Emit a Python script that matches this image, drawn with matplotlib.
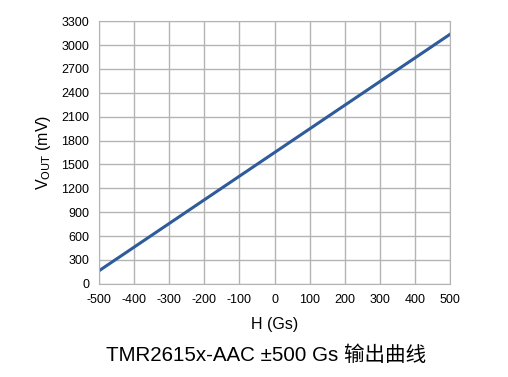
import matplotlib.pyplot as plt
import numpy as np

plt.rcParams['font.family'] = ['Liberation Sans', 'Noto Sans CJK SC', 'DejaVu Sans']
plt.rcParams['axes.unicode_minus'] = False

# data
field_gs = [-500, 500]
vout_mv = [165, 3135]
x_ticks = list(range(-500, 501, 100))
y_ticks = list(range(0, 3301, 300))

fig = plt.figure(figsize=(5.08, 3.77), dpi=100)
ax = fig.add_axes([0.195, 0.247, 0.691, 0.697])

ax.plot(field_gs, vout_mv, color='#2e5b9a', linewidth=2.2)

ax.set_xlim(-500, 500)
ax.set_ylim(0, 3300)
ax.set_xticks(x_ticks)
ax.set_yticks(y_ticks)
ax.grid(True, color='#b4b4b4', linewidth=1)
ax.set_axisbelow(True)
for s in ax.spines.values():
    s.set_color('#b4b4b4')
ax.tick_params(length=0, labelsize=9, pad=7)

ax.set_xlabel('H (Gs)', fontsize=11.5, labelpad=8)
ax.set_ylabel(r'V$_{\mathrm{OUT}}$ (mV)', fontsize=11.5, labelpad=6)

fig.text(0.524, 0.058, 'TMR2615x-AAC ±500 Gs 输出曲线', ha='center', va='center', fontsize=14.8)

fig.savefig('out.png', dpi=100)
